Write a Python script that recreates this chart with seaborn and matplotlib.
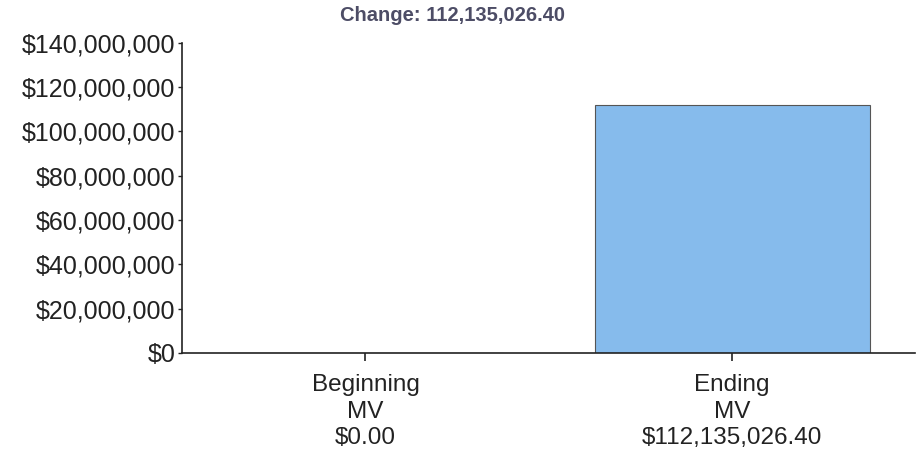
import matplotlib
matplotlib.use("Agg")
import matplotlib.pyplot as plt
import seaborn as sns
import pandas as pd
from matplotlib.ticker import FuncFormatter

# chart data
categories = ["Beginning\nMV\n$0.00", "Ending\nMV\n$112,135,026.40"]
values = [0.0, 112135026.40]
change_label = "Change: 112,135,026.40"
y_ticks = [0, 20e6, 40e6, 60e6, 80e6, 100e6, 120e6, 140e6]

df = pd.DataFrame({"category": categories, "value": values})

sns.set_theme(style="white")
plt.rcParams["font.family"] = ["Liberation Sans", "DejaVu Sans"]

fig = plt.figure(figsize=(9.2, 4.66), dpi=100)
ax = fig.add_axes([0.198, 0.2425, 0.797, 0.6655])

sns.barplot(data=df, x="category", y="value", color="#86bbec", width=0.75,
            edgecolor="#555555", linewidth=0.8, saturation=1, ax=ax)

ax.set_xlim(-0.5, 1.5)
ax.set_ylim(0, 140e6)
ax.set_yticks(y_ticks)
ax.yaxis.set_major_formatter(FuncFormatter(lambda v, p: f"${v:,.0f}"))
ax.set_xlabel("")
ax.set_ylabel("")

sns.despine(ax=ax)
for side in ["left", "bottom"]:
    ax.spines[side].set_color("#222222")
    ax.spines[side].set_linewidth(1.2)

ax.tick_params(axis="y", labelsize=18, colors="#222222", length=3, width=1, pad=2, direction="out", left=True)
ax.tick_params(axis="x", labelsize=17.5, colors="#222222", length=6, width=1.2, pad=9, direction="out", bottom=True)
for lbl in ax.get_xticklabels():
    lbl.set_linespacing(1.28)

fig.text(0.492, 0.967, change_label, ha="center", va="center",
         fontsize=14.5, fontweight="bold", color="#4d4d66")

fig.savefig("out.png", dpi=100)
